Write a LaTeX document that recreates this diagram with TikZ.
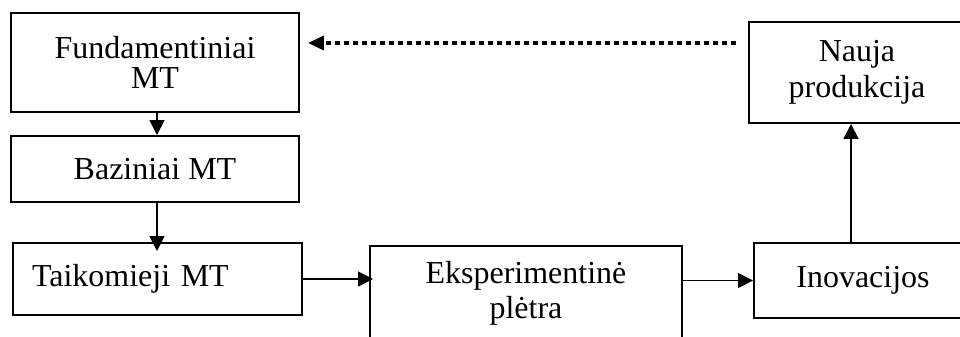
\documentclass[tikz,border=0pt]{standalone}
\usepackage{fontspec}
\setmainfont{Liberation Serif}
\usetikzlibrary{arrows.meta}
\usetikzlibrary{positioning}

\begin{document}
\begin{tikzpicture}[x=0.02cm,y=-0.02cm,
  stagebox/.style={draw,line width=0.04cm,align=center,inner sep=0pt,
    font=\fontsize{18.2}{20.2}\selectfont},
  flowarrow/.style={line width=0.035cm,-{Triangle[length=0.3cm,width=0.3cm]}},
  backarrow/.style={line width=0.07cm,dash pattern=on 0.1cm off 0.08cm,
    -{Triangle[length=0.32cm,width=0.28cm]}}]
\useasboundingbox (0,0) rectangle (960,336);
\clip (0,0) rectangle (960,336);

\node[stagebox,minimum width=5.76cm,minimum height=1.98cm,
  font=\fontsize{18.2}{17}\selectfont] (fund) at (155,62.5) {Fundamentiniai\\MT};
\node[stagebox,minimum width=5.76cm,minimum height=1.32cm] (baz) at (155,169) {Baziniai MT};
\node[stagebox,align=left,text width=5.02cm,inner xsep=0.38cm,
  minimum height=1.44cm] (taik) at (157.5,279) {Taikomieji MT};
\node[stagebox,minimum width=6.24cm,minimum height=1.9cm] (eksp) at (526,293.5) {Eksperimentinė\\plėtra};
\node[stagebox,minimum width=4.36cm,minimum height=1.5cm] (inov) at (863,280.5) {Inovacijos};
\node[stagebox,minimum width=4.32cm,minimum height=2.02cm] (nauja) at (857,72.5) {Nauja\\produkcija};

% connectors
\coordinate (backline) at (0,43);
\coordinate (downline) at (157,0);
\coordinate (upline) at (851,0);
\draw[flowarrow] (fund.south -| downline) -- (baz.north -| downline);
\draw[flowarrow,shorten >=-0.18cm] (baz.south -| downline) -- (taik.north -| downline);
\draw[flowarrow,shorten >=-0.08cm] (taik.east) -- (taik.east -| eksp.west);
\draw[flowarrow] (inov.west -| eksp.east) -- (inov.west);
\draw[flowarrow] (inov.north -| upline) -- (nauja.south -| upline);
\draw[backarrow,shorten <=0.24cm,shorten >=0.16cm] (nauja.west |- backline) -- (fund.east |- backline);

\end{tikzpicture}
\end{document}
